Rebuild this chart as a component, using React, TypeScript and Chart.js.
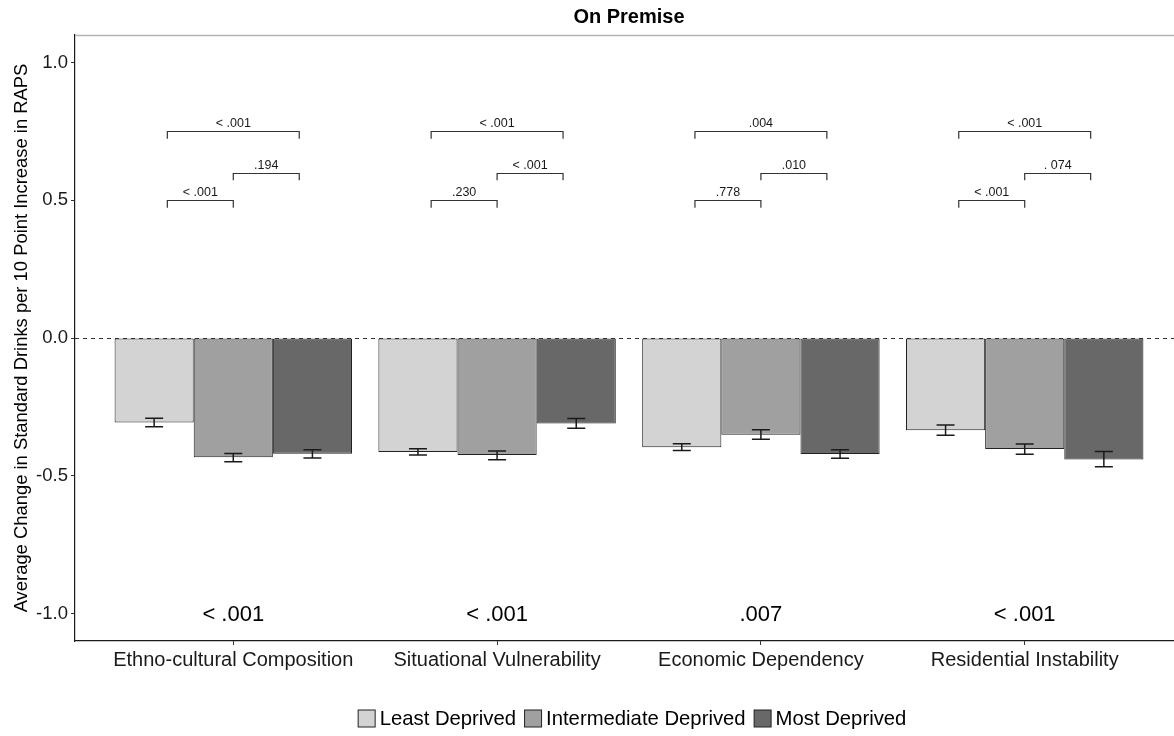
import { useEffect, useRef } from "react";
import { Chart, registerables } from "chart.js";

Chart.register(...registerables);

// Neighbourhood deprivation dimensions
const categories = [
  "Ethno-cultural Composition",
  "Situational Vulnerability",
  "Economic Dependency",
  "Residential Instability",
];

const groupLabels = ["Least Deprived", "Intermediate Deprived", "Most Deprived"];

// Mean change and error-bar limits per deprivation group
const leastMean = [-0.307, -0.414, -0.397, -0.335];
const leastLower = [-0.322, -0.425, -0.408, -0.353];
const leastUpper = [-0.291, -0.402, -0.384, -0.316];

const intermediateMean = [-0.433, -0.425, -0.351, -0.403];
const intermediateLower = [-0.449, -0.442, -0.368, -0.422];
const intermediateUpper = [-0.419, -0.41, -0.333, -0.385];

const mostMean = [-0.42, -0.31, -0.421, -0.441];
const mostLower = [-0.436, -0.328, -0.437, -0.467];
const mostUpper = [-0.406, -0.292, -0.406, -0.412];

const fillColors = ["#d3d3d3", "#a0a0a0", "#686868"];

// p-values: least vs intermediate, intermediate vs most, least vs most, overall
const pLeastVsIntermediate = ["< .001", ".230", ".778", "< .001"];
const pIntermediateVsMost = [".194", "< .001", ".010", ". 074"];
const pLeastVsMost = ["< .001", "< .001", ".004", "< .001"];
const pOverall = ["< .001", "< .001", ".007", "< .001"];

// Bracket heights (data units)
const bracketLow = 0.5;
const bracketMid = 0.6;
const bracketTop = 0.75;
const bracketDrop = 0.027;
const overallLabelY = -1.0;

const yTickValues = [-1.0, -0.5, 0.0, 0.5, 1.0];

const FONT = "'Liberation Sans', Arial, sans-serif";

const means = [leastMean, intermediateMean, mostMean];
const lowers = [leastLower, intermediateLower, mostLower];
const uppers = [leastUpper, intermediateUpper, mostUpper];

const decorations = {
  id: "decorations",
  beforeDatasetsDraw(chart: any) {
    const { ctx, chartArea, scales } = chart;
    const y = scales.y;
    ctx.save();
    // light panel top edge
    ctx.strokeStyle = "#b3b3b3";
    ctx.lineWidth = 1.5;
    ctx.beginPath();
    ctx.moveTo(chartArea.left, chartArea.top + 0.5);
    ctx.lineTo(chartArea.right, chartArea.top + 0.5);
    ctx.stroke();
    // dashed reference line at zero
    const y0 = Math.round(y.getPixelForValue(0)) + 0.5;
    ctx.setLineDash([4, 4]);
    ctx.strokeStyle = "#333";
    ctx.lineWidth = 1;
    ctx.beginPath();
    ctx.moveTo(chartArea.left, y0);
    ctx.lineTo(chartArea.right, y0);
    ctx.stroke();
    ctx.restore();
  },
  afterDatasetsDraw(chart: any) {
    const { ctx, chartArea, scales } = chart;
    const x = scales.x;
    const y = scales.y;
    ctx.save();

    // error bars
    ctx.strokeStyle = "#1a1a1a";
    ctx.lineWidth = 1.5;
    means.forEach((_, d) => {
      const meta = chart.getDatasetMeta(d);
      meta.data.forEach((bar: any, i: number) => {
        const cx = bar.x;
        const yl = y.getPixelForValue(lowers[d][i]);
        const yu = y.getPixelForValue(uppers[d][i]);
        const hw = 9;
        ctx.beginPath();
        ctx.moveTo(cx, yl);
        ctx.lineTo(cx, yu);
        ctx.moveTo(cx - hw, yl);
        ctx.lineTo(cx + hw, yl);
        ctx.moveTo(cx - hw, yu);
        ctx.lineTo(cx + hw, yu);
        ctx.stroke();
      });
    });

    // significance brackets
    const bracket = (x1: number, x2: number, level: number, label: string) => {
      const px1 = x.getPixelForValue(x1);
      const px2 = x.getPixelForValue(x2);
      const py = Math.round(y.getPixelForValue(level)) + 0.5;
      const pd = y.getPixelForValue(level - bracketDrop);
      ctx.strokeStyle = "#333";
      ctx.lineWidth = 1.2;
      ctx.beginPath();
      ctx.moveTo(px1, pd);
      ctx.lineTo(px1, py);
      ctx.lineTo(px2, py);
      ctx.lineTo(px2, pd);
      ctx.stroke();
      ctx.fillStyle = "#1a1a1a";
      ctx.font = `12.5px ${FONT}`;
      ctx.textAlign = "center";
      ctx.textBaseline = "alphabetic";
      ctx.fillText(label, (px1 + px2) / 2, py - 5);
    };
    categories.forEach((_, i) => {
      const c = i + 1;
      bracket(c - 0.25, c, bracketLow, pLeastVsIntermediate[i]);
      bracket(c, c + 0.25, bracketMid, pIntermediateVsMost[i]);
      bracket(c - 0.25, c + 0.25, bracketTop, pLeastVsMost[i]);
      // overall test
      ctx.fillStyle = "#000";
      ctx.font = `22px ${FONT}`;
      ctx.textAlign = "center";
      ctx.textBaseline = "middle";
      ctx.fillText(pOverall[i], x.getPixelForValue(c), y.getPixelForValue(overallLabelY) + 1);
    });

    const panelCenter = (chartArea.left + chartArea.right) / 2;

    // title
    ctx.fillStyle = "#000";
    ctx.font = `bold 20px ${FONT}`;
    ctx.textAlign = "center";
    ctx.textBaseline = "middle";
    ctx.fillText("On Premise", panelCenter, 17);

    // y-axis title
    ctx.save();
    ctx.translate(22, (chartArea.top + chartArea.bottom) / 2);
    ctx.rotate(-Math.PI / 2);
    ctx.font = `18.4px ${FONT}`;
    ctx.fillStyle = "#000";
    ctx.textAlign = "center";
    ctx.textBaseline = "middle";
    ctx.fillText("Average Change in Standard Drinks per 10 Point Increase in RAPS", 0, 0);
    ctx.restore();

    // legend
    ctx.font = `20.3px ${FONT}`;
    const box = 17;
    const gap = 5;
    const spacing = 8;
    const widths = chart.data.datasets.map(
      (ds: any) => box + gap + ctx.measureText(ds.label).width
    );
    const total = widths.reduce((a: number, b: number) => a + b, 0) + spacing * (widths.length - 1);
    let lx = panelCenter + 3 - total / 2;
    const ly = 718;
    chart.data.datasets.forEach((ds: any, i: number) => {
      ctx.fillStyle = ds.backgroundColor;
      ctx.fillRect(lx + 0.5, ly - box / 2 + 0.5, box, box);
      ctx.strokeStyle = "#222";
      ctx.lineWidth = 1;
      ctx.strokeRect(lx + 0.5, ly - box / 2 + 0.5, box, box);
      ctx.fillStyle = "#000";
      ctx.textAlign = "left";
      ctx.textBaseline = "middle";
      ctx.fillText(ds.label, lx + box + gap, ly + 1);
      lx += widths[i] + spacing;
    });

    ctx.restore();
  },
};

export default function App() {
  const canvasRef = useRef<HTMLCanvasElement | null>(null);

  useEffect(() => {
    if (!canvasRef.current) return;
    const chart = new Chart(canvasRef.current, {
      type: "bar",
      data: {
        datasets: groupLabels.map((label, d) => ({
          label,
          data: means[d].map((v, i) => ({ x: i + 1, y: v })),
          backgroundColor: fillColors[d],
          borderColor: "#222",
          borderWidth: 1,
          borderSkipped: false,
          categoryPercentage: 0.9,
          barPercentage: 1.0,
        })),
      },
      options: {
        responsive: false,
        animation: false,
        devicePixelRatio: 1,
        layout: { padding: { left: 0, right: 17, top: 35, bottom: 0 } },
        plugins: {
          legend: { display: false },
          title: { display: false },
          tooltip: { enabled: false },
        },
        scales: {
          x: {
            type: "linear",
            min: 0.4,
            max: 4.6,
            offset: false,
            afterBuildTicks: (scale: any) => {
              scale.ticks = categories.map((_, i) => ({ value: i + 1 }));
            },
            afterFit: (scale: any) => {
              scale.height = 95;
            },
            ticks: {
              autoSkip: false,
              maxRotation: 0,
              padding: 3,
              color: "#1a1a1a",
              font: { family: FONT, size: 20 },
              callback: (v: any) => categories[Math.round(Number(v)) - 1] ?? "",
            },
            grid: {
              display: true,
              offset: false,
              drawOnChartArea: false,
              drawTicks: true,
              tickLength: 4,
              color: "#333",
            },
            border: { display: true, color: "#1a1a1a", width: 1.2 },
          },
          y: {
            min: -1.1,
            max: 1.1,
            afterBuildTicks: (scale: any) => {
              scale.ticks = yTickValues.map((v) => ({ value: v }));
            },
            afterFit: (scale: any) => {
              scale.width = 75;
            },
            ticks: {
              padding: 3,
              color: "#1a1a1a",
              font: { family: FONT, size: 18.5 },
              callback: (v: any) => Number(v).toFixed(1),
            },
            grid: {
              display: true,
              drawOnChartArea: false,
              drawTicks: true,
              tickLength: 4,
              color: "#333",
            },
            border: { display: true, color: "#1a1a1a", width: 1.2 },
          },
        },
      },
      plugins: [decorations],
    } as any);
    return () => chart.destroy();
  }, []);

  return (
    <div
      style={{
        position: "fixed",
        left: 0,
        top: 0,
        width: 1174,
        height: 736,
        overflow: "hidden",
        background: "#fff",
      }}
    >
      <canvas ref={canvasRef} width={1200} height={736} style={{ display: "block" }} />
    </div>
  );
}
